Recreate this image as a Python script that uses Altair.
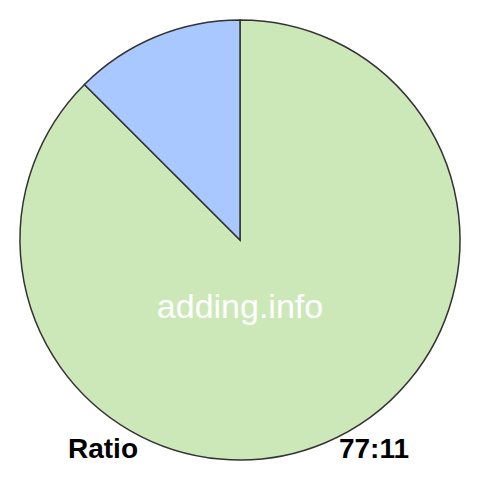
import altair as alt
import pandas as pd

labels = ["A", "B"]
values = [77, 11]
colors = ["#cde8b8", "#a8c8ff"]

df = pd.DataFrame({"label": labels, "value": values, "order": [0, 1]})

pie = alt.Chart(df).mark_arc(radius=220, stroke="#333333", strokeWidth=1.5).encode(
    theta=alt.Theta("value:Q", stack=True),
    color=alt.Color("label:N", scale=alt.Scale(domain=labels, range=colors), legend=None),
    order=alt.Order("order:Q"),
    x=alt.value(232),
    y=alt.value(232),
)

txt_df = pd.DataFrame({"t": ["adding.info"]})
watermark = alt.Chart(txt_df).mark_text(
    font="Liberation Sans", fontSize=34, color="white", baseline="alphabetic", align="center"
).encode(x=alt.value(232), y=alt.value(310), text="t:N")

left_df = pd.DataFrame({"t": ["Ratio"]})
left = alt.Chart(left_df).mark_text(
    font="Liberation Sans", fontSize=28, fontWeight="bold", color="black", baseline="alphabetic", align="center"
).encode(x=alt.value(95), y=alt.value(450), text="t:N")

right_df = pd.DataFrame({"t": [f"{values[0]}:{values[1]}"]})
right = alt.Chart(right_df).mark_text(
    font="Liberation Sans", fontSize=28, fontWeight="bold", color="black", baseline="alphabetic", align="center"
).encode(x=alt.value(366), y=alt.value(450), text="t:N")

chart = alt.layer(pie, watermark, left, right).properties(
    width=464, height=464, padding=0, autosize=alt.AutoSizeParams(type="none")
).configure_view(stroke=None)

chart.save("out.html", embed_options={"renderer": "svg", "actions": False})
